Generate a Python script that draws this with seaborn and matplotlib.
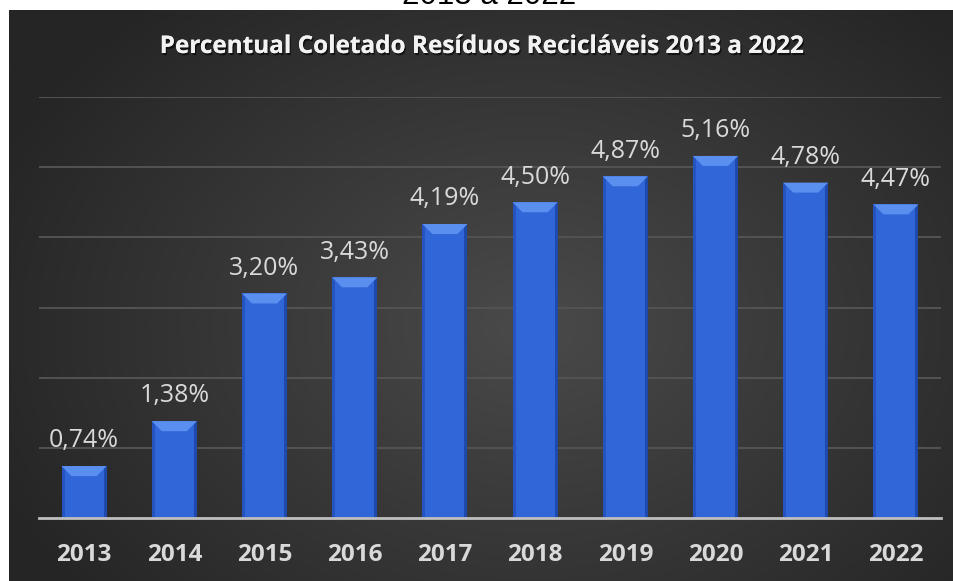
import numpy as np
import pandas as pd
import matplotlib
matplotlib.use("Agg")
import matplotlib.pyplot as plt
import matplotlib.patheffects as pe
from matplotlib.patches import Polygon, Rectangle
import seaborn as sns

years = ["2013", "2014", "2015", "2016", "2017", "2018", "2019", "2020", "2021", "2022"]
values = [0.74, 1.38, 3.20, 3.43, 4.19, 4.50, 4.87, 5.16, 4.78, 4.47]
labels = ["0,74%", "1,38%", "3,20%", "3,43%", "4,19%", "4,50%", "4,87%", "5,16%", "4,78%", "4,47%"]
title = "Percentual Coletado Resíduos Recicláveis 2013 a 2022"
top_text = "2013 a 2022"

sns.set_theme(style="white")
plt.rcParams["font.family"] = ["Open Sans", "DejaVu Sans"]

W, H = 954, 581
fig = plt.figure(figsize=(W / 100, H / 100), dpi=100)
fig.patch.set_facecolor("white")

# cropped heading above the panel
fig.text(489 / W, 1 - 4.5 / H, top_text, ha="center", va="baseline",
         fontsize=22.5, color="black", family=["Liberation Sans", "DejaVu Sans"])

# dark radial-gradient panel
bg = fig.add_axes([9 / W, 0, 1 - 9 / W, 1 - 10 / H])
bg.set_axis_off()
ny, nx = 300, 500
yy, xx = np.mgrid[0:ny, 0:nx]
cx, cy = nx * 0.55, ny * 0.55
r = np.sqrt(((xx - cx) / (nx * 0.62)) ** 2 + ((yy - cy) / (ny * 0.75)) ** 2)
r = np.clip(r, 0, 1)
inner = np.array([0x4a, 0x4a, 0x4a]) / 255
outer = np.array([0x25, 0x25, 0x25]) / 255
img = inner[None, None, :] * (1 - r[..., None]) + outer[None, None, :] * r[..., None]
bg.imshow(img, aspect="auto", extent=[0, 1, 0, 1], origin="upper")
bg.set_xlim(0, 1)
bg.set_ylim(0, 1)

# title
fig.text(481 / W, 1 - 47 / H, title, ha="center", va="center",
         fontsize=17.5, fontweight="bold", color="#f2f2f2",
         path_effects=[pe.withSimplePatchShadow(offset=(1, -1.5), shadow_rgbFace="black", alpha=0.6),
                       pe.Normal()])

ax = fig.add_axes([39 / W, 1 - 518 / H, 902 / W, 421 / H])
ax.patch.set_alpha(0)

df = pd.DataFrame({"year": years, "value": values})
sns.barplot(data=df, x="year", y="value", color="#3066d8", width=0.5,
            saturation=1, ax=ax, zorder=3, edgecolor="none")

ax.set_xlim(-0.5, 9.5)
ax.set_ylim(0, 6)
ax.set_yticks([1, 2, 3, 4, 5, 6])
ax.yaxis.grid(True, color="#535353", linewidth=1.4, zorder=0)
ax.set_axisbelow(True)
ax.tick_params(axis="y", length=0, labelleft=False)
for s in ["top", "left", "right"]:
    ax.spines[s].set_visible(False)
ax.spines["bottom"].set_color("#bfbfbf")
ax.spines["bottom"].set_linewidth(2)
ax.spines["bottom"].set_zorder(5)
ax.set_xlabel("")
ax.set_ylabel("")

ax.set_xticks(np.arange(-0.5, 10, 1.0), minor=True)
ax.tick_params(axis="x", which="minor", length=6.5, width=1.6, color="#bfbfbf", direction="out")
ax.tick_params(axis="x", which="major", length=0, pad=18, labelsize=17.5, labelcolor="#d9d9d9")
for t in ax.get_xticklabels():
    t.set_fontweight("bold")

# bevel effects derived from bar geometry
px_per_x = 902 / 10.0
px_per_y = 421 / 6.0
bev_h = 10 / px_per_y
bev_w = 10 / px_per_x
side_w = 3 / px_per_x
for p in ax.patches:
    x0, w, h = p.get_x(), p.get_width(), p.get_height()
    x1 = x0 + w
    ax.add_patch(Rectangle((x0, 0), side_w, h, color="#2554c0", zorder=3.5, lw=0))
    ax.add_patch(Rectangle((x1 - side_w, 0), side_w, h, color="#1f4aad", zorder=3.5, lw=0))
    ax.add_patch(Polygon([(x0, h), (x1, h), (x1 - bev_w, h - bev_h), (x0 + bev_w, h - bev_h)],
                         closed=True, color="#5a8ff0", zorder=4, lw=0))

for i, (v, lab) in enumerate(zip(values, labels)):
    ax.annotate(lab, (i, v), xytext=(0, 13.5), textcoords="offset points",
                ha="center", va="baseline", fontsize=18, color="#d9d9d9", zorder=6)

fig.savefig("out.png", dpi=100, facecolor=fig.get_facecolor())
